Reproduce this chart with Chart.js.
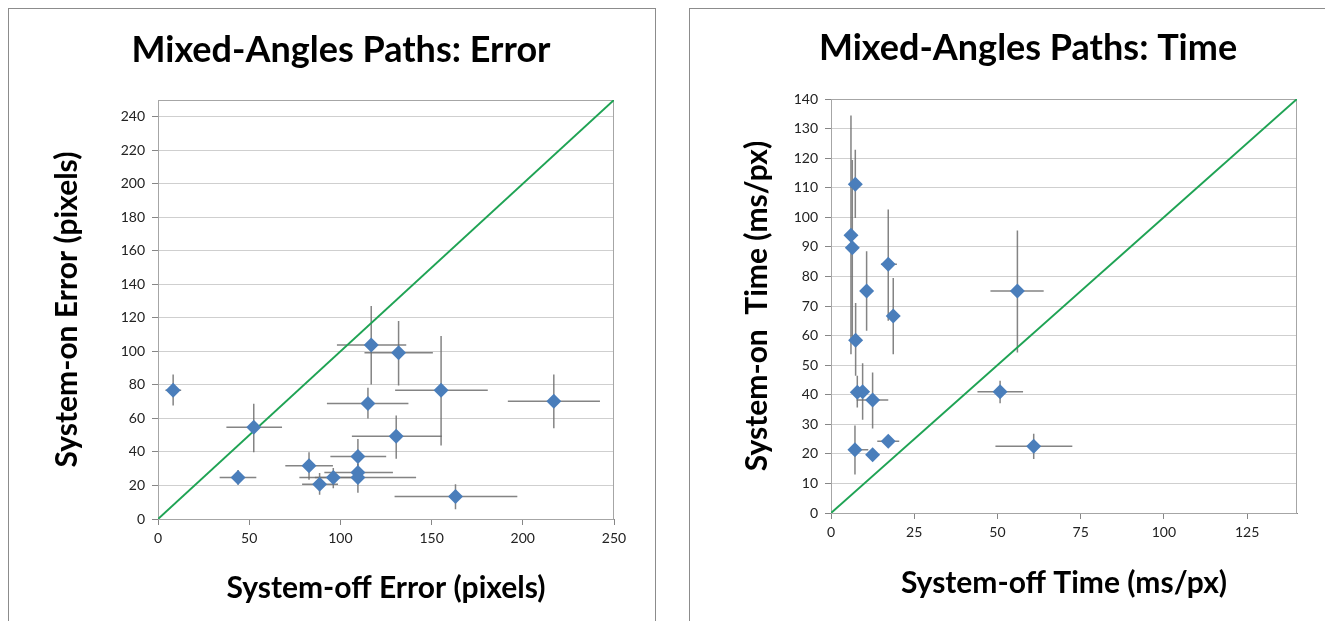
<!DOCTYPE html>
<html>
<head>
<meta charset="utf-8">
<script src="https://cdn.jsdelivr.net/npm/chart.js@4.4.1/dist/chart.umd.min.js"></script>
<style>
  body { margin: 0; background: #fff; width: 1325px; height: 621px; overflow: hidden; position: relative; }
  .box { position: absolute; top: 8px; height: 640px; border: 1px solid #8c8c8c; border-bottom: none; }
  #boxL { left: 8px; width: 646px; }
  #boxR { left: 689px; width: 700px; }
  .wrap { position: absolute; top: 9px; height: 612px; }
  #wrapL { left: 9px; width: 645px; }
  #wrapR { left: 690px; width: 635px; }
</style>
</head>
<body>
<div class="box" id="boxL"></div>
<div class="box" id="boxR"></div>
<div class="wrap" id="wrapL"><canvas id="errorChart"></canvas></div>
<div class="wrap" id="wrapR"><canvas id="timeChart"></canvas></div>

<script>
// --- Error chart (pixels) ---
const errOff   = [8.3, 52.5, 43.9, 82.8, 88.6, 96.1, 109.6, 109.6, 109.6, 115.1, 116.9, 131.9, 130.6, 155.2, 163.1, 217.0];
const errOn    = [76.8, 54.7, 24.7, 31.7, 20.8, 24.7, 37.3, 27.7, 24.7, 68.9, 103.8, 99.2, 49.3, 76.8, 13.4, 70.2];
const errOffLo = [4.1, 37.5, 33.8, 69.8, 79.0, 86.0, 94.5, 91.2, 77.5, 92.6, 98.1, 113.2, 106.3, 130.0, 129.7, 191.8];
const errOffHi = [12.7, 68.0, 53.9, 95.9, 98.7, 109.0, 125.1, 128.8, 141.5, 137.3, 136.1, 150.7, 155.6, 180.8, 197.0, 242.3];
const errOnLo  = [67.7, 39.9, 20.4, 23.4, 14.4, 18.4, 30.0, 22.0, 15.6, 59.9, 80.2, 79.6, 35.9, 43.9, 5.8, 54.1];
const errOnHi  = [86.2, 68.7, 29.3, 39.9, 27.4, 30.4, 47.7, 33.0, 28.0, 78.3, 127.1, 118.1, 61.7, 109.2, 20.8, 86.2];

// --- Time chart (ms/px) ---
const timeOff   = [6.0, 6.4, 7.3, 7.4, 7.9, 9.5, 12.5, 7.2, 12.5, 17.2, 17.2, 18.7, 10.7, 56.0, 50.8, 60.9];
const timeOn    = [93.9, 89.7, 111.2, 58.4, 40.8, 41.0, 38.2, 21.4, 19.7, 24.3, 84.1, 66.6, 75.1, 75.1, 41.0, 22.6];
const timeOffLo = [5.5, 6.0, 6.8, 6.8, 7.0, 8.5, 7.7, 6.4, 12.0, 13.9, 15.0, 18.0, 10.0, 47.9, 44.0, 49.4];
const timeOffHi = [6.5, 6.8, 7.8, 8.0, 9.0, 10.5, 17.2, 11.2, 13.0, 20.5, 19.8, 19.4, 11.4, 63.9, 57.7, 72.5];
const timeOnLo  = [53.7, 58.0, 99.8, 46.4, 35.7, 31.5, 28.6, 13.0, 18.5, 23.0, 65.0, 53.7, 61.6, 54.3, 37.1, 18.3];
const timeOnHi  = [134.4, 119.4, 122.8, 71.0, 46.4, 50.6, 47.5, 29.6, 21.0, 26.0, 102.6, 79.5, 88.5, 95.5, 44.7, 26.8];

const errTicks  = { min: 0, max: 250, xStep: 50, yStep: 20 };
const timeTicks = { min: 0, max: 140, xStep: 25, yStep: 10 };

const blue = '#4a7ebb';
const green = '#1fa354';

function errorBars(xs, ys, xLo, xHi, yLo, yHi) {
    return {
        id: 'errorBars',
        beforeDatasetsDraw(chart) {
            const { ctx, scales: { x, y }, chartArea } = chart;
            ctx.save();
            // plot frame (top / right)
            ctx.strokeStyle = '#a6a6a6';
            ctx.lineWidth = 1;
            ctx.strokeRect(chartArea.left + 0.5, chartArea.top + 0.5, chartArea.width - 1, chartArea.height);

            ctx.strokeStyle = 'rgba(110,110,110,0.85)';
            ctx.lineWidth = 1.5;
            for (let i = 0; i < xs.length; i++) {
                const px = x.getPixelForValue(xs[i]);
                const py = y.getPixelForValue(ys[i]);
                ctx.beginPath();
                ctx.moveTo(x.getPixelForValue(xLo[i]), py);
                ctx.lineTo(x.getPixelForValue(xHi[i]), py);
                ctx.moveTo(px, y.getPixelForValue(yLo[i]));
                ctx.lineTo(px, y.getPixelForValue(yHi[i]));
                ctx.stroke();
            }
            ctx.restore();
        }
    };
}

function makeChart(id, o) {
    const points = o.xs.map((v, i) => ({ x: v, y: o.ys[i] }));
    const ctx = document.getElementById(id).getContext('2d');
    return new Chart(ctx, {
        type: 'scatter',
        data: {
            datasets: [{
                data: points,
                pointStyle: 'rectRot',
                pointRadius: 7.5,
                backgroundColor: blue,
                borderColor: blue,
                borderWidth: 0
            }, {
                data: [{ x: 0, y: 0 }, { x: o.t.max, y: o.t.max }],
                showLine: true,
                pointRadius: 0,
                borderColor: green,
                borderWidth: 2
            }]
        },
        options: {
            responsive: true,
            maintainAspectRatio: false,
            animation: false,
            devicePixelRatio: 1,
            layout: { padding: { left: o.padLeft, right: 0, top: 0, bottom: 0 } },
            plugins: {
                legend: { display: false },
                tooltip: { enabled: false },
                title: {
                    display: true,
                    text: o.title,
                    color: '#000',
                    font: { family: 'Lato', size: 36, weight: 'bold', lineHeight: 1.2 },
                    padding: { top: o.titleTop, bottom: o.titleBottom }
                }
            },
            scales: {
                x: {
                    type: 'linear',
                    min: o.t.min,
                    max: o.t.max,
                    ticks: { stepSize: o.t.xStep, includeBounds: false, color: '#222', padding: 5,
                             font: { family: 'Lato', size: 14 } },
                    grid: { drawOnChartArea: false, tickLength: 6, tickColor: '#868686' },
                    border: { color: '#868686' },
                    title: {
                        display: true,
                        text: o.xTitle,
                        color: '#000',
                        font: { family: 'Lato', size: 30, weight: 'bold', lineHeight: 1.2 },
                        padding: { top: 0, bottom: o.xTitlePad }
                    },
                    afterFit(s) { s.height = o.xAxisH; }
                },
                y: {
                    type: 'linear',
                    min: o.t.min,
                    max: o.t.max,
                    ticks: { stepSize: o.t.yStep, includeBounds: false, color: '#222', padding: 7,
                             font: { family: 'Lato', size: 14 } },
                    grid: { color: '#cfcfcf', tickLength: 6, tickColor: '#868686' },
                    border: { color: '#868686' },
                    title: {
                        display: true,
                        text: o.yTitle,
                        color: '#000',
                        font: { family: 'Lato', size: 30, weight: 'bold', lineHeight: 1.2 },
                        padding: { top: o.yTitlePad, bottom: 0 }
                    },
                    afterFit(s) { s.width = o.yAxisW; }
                },
                pad: {
                    position: 'right',
                    display: true,
                    grid: { display: false },
                    border: { display: false },
                    ticks: { display: false },
                    afterFit(s) { s.width = o.rightW; }
                }
            }
        },
        plugins: [errorBars(o.xs, o.ys, o.xLo, o.xHi, o.yLo, o.yHi)]
    });
}

makeChart('errorChart', {
    xs: errOff, ys: errOn, xLo: errOffLo, xHi: errOffHi, yLo: errOnLo, yHi: errOnHi,
    t: errTicks,
    title: 'Mixed-Angles Paths: Error',
    xTitle: 'System-off Error (pixels)',
    yTitle: 'System-on Error (pixels)',
    padLeft: 19, titleTop: 19.4, titleBottom: 28.4,
    yAxisW: 130, yTitlePad: 21,
    xAxisH: 102, xTitlePad: 15,
    rightW: 40
});

makeChart('timeChart', {
    xs: timeOff, ys: timeOn, xLo: timeOffLo, xHi: timeOffHi, yLo: timeOnLo, yHi: timeOnHi,
    t: timeTicks,
    title: 'Mixed-Angles Paths: Time',
    xTitle: 'System-off Time (ms/px)',
    yTitle: 'System-on  Time (ms/px)',
    padLeft: 41, titleTop: 17.4, titleBottom: 29.4,
    yAxisW: 100, yTitlePad: 8,
    xAxisH: 108, xTitlePad: 20,
    rightW: 28
});
</script>
</body>
</html>
